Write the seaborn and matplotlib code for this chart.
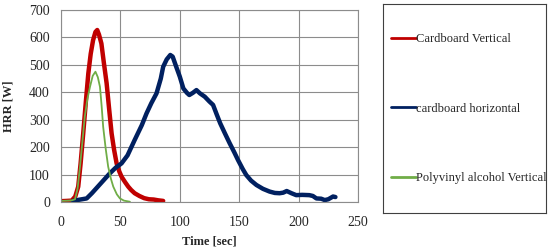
import matplotlib
matplotlib.use("Agg")
import matplotlib.pyplot as plt
import numpy as np
import pandas as pd
import seaborn as sns

# Cardboard Vertical
cv_time = [0, 5, 9, 12, 14.5, 16.5, 18.7, 21, 23, 25, 27, 29, 30.5, 32, 34, 36, 38.4, 40.5, 42.6, 44.7,
           46.8, 49, 51, 54, 56.6, 59, 62, 66, 70, 74, 78, 82, 86]
cv_hrr = [3, 4, 5, 20, 56, 140, 250, 370, 469, 540, 590, 620, 627, 610, 578, 510, 433, 340, 250, 190,
          141, 112, 92, 72, 56, 44, 32, 22, 14, 10, 9, 6, 4]

# cardboard horizontal
ch_time = [10, 15, 21.6, 26, 31, 36, 41, 46, 51, 56, 62, 68, 72, 76, 80.4, 84, 86, 89, 92, 94, 97, 100, 103,
           106, 108, 111, 114, 117, 121, 125, 128, 131, 134, 138, 142, 146, 149, 153, 156, 160, 164.5, 170, 175.6,
           180, 184, 187, 190, 194, 198, 203, 209, 212, 215, 219, 222, 225, 229, 231]
ch_hrr = [4, 8, 13, 32, 56, 80, 104, 125, 141, 170, 226, 280, 323, 360, 396, 450, 493, 520, 536, 530, 493, 457, 414,
          398, 390, 398, 408, 396, 384, 366, 354, 320, 287, 250, 214, 180, 153, 120, 98, 78, 62, 48, 38,
          33, 32, 34, 40, 32, 25, 26, 25, 22, 13, 12, 7, 10, 20, 18]

# Polyvinyl alcohol Vertical
pv_time = [0, 6, 9, 11.8, 14, 16, 18, 20, 22.2, 24.4, 26.7, 29, 31, 32.8, 34.2, 35.5, 37.6, 39.7, 42, 44,
           47, 49.6, 53, 58]
pv_hrr = [4, 5, 6, 10, 50, 129, 220, 311, 375, 420, 460, 475, 455, 420, 350, 274, 195, 129, 85, 56,
          28, 13, 5, 1]

series = [
    ("Cardboard Vertical", cv_time, cv_hrr, "#C00000", 3.2),
    ("cardboard horizontal", ch_time, ch_hrr, "#002060", 3.2),
    ("Polyvinyl alcohol Vertical", pv_time, pv_hrr, "#70AD47", 1.3),
]

sns.set_style("white")
plt.rcParams['font.family'] = ['Liberation Serif', 'DejaVu Serif']

fig = plt.figure(figsize=(5.51, 2.5), dpi=100)
ax = fig.add_axes([61 / 551, 48 / 250, 297 / 551, 192 / 250])

for name, t, h, c, lw in series:
    df = pd.DataFrame({"t": t, "h": h})
    sns.lineplot(data=df, x="t", y="h", ax=ax, color=c, linewidth=lw, label=name,
                 sort=False, estimator=None)

ax.set_xlim(0, 250)
ax.set_ylim(0, 700)
ax.set_xticks(np.arange(0, 251, 50))
ax.set_yticks(np.arange(0, 701, 100))
ax.grid(True, color="#8c8c8c", linewidth=0.8)
for s in ax.spines.values():
    s.set_color("#8c8c8c")
    s.set_linewidth(0.8)
ax.tick_params(axis="x", length=0, labelsize=10, pad=10)
ax.tick_params(axis="y", length=0, labelsize=10, pad=8)
ax.set_xlabel("Time [sec]", fontsize=9, fontweight="bold", labelpad=5)
ax.set_ylabel("HRR [W]", fontsize=9, fontweight="bold")
ax.yaxis.set_label_coords(-0.158, 0.5)

handles, labels = ax.get_legend_handles_labels()
ax.get_legend().remove()

lax = fig.add_axes([383 / 551, 37 / 250, 163 / 551, 209 / 250])
lax.set_xticks([])
lax.set_yticks([])
for s in lax.spines.values():
    s.set_color("#404040")
    s.set_linewidth(0.8)
leg = lax.legend(handles, labels, loc="center left", frameon=False, fontsize=9,
                 handlelength=2.0, handletextpad=0.0, labelspacing=4.6,
                 borderaxespad=0.0, bbox_to_anchor=(0.02, 0.5))
for line in leg.get_lines():
    line.set_linewidth(2)

fig.savefig("out.png", dpi=100)
